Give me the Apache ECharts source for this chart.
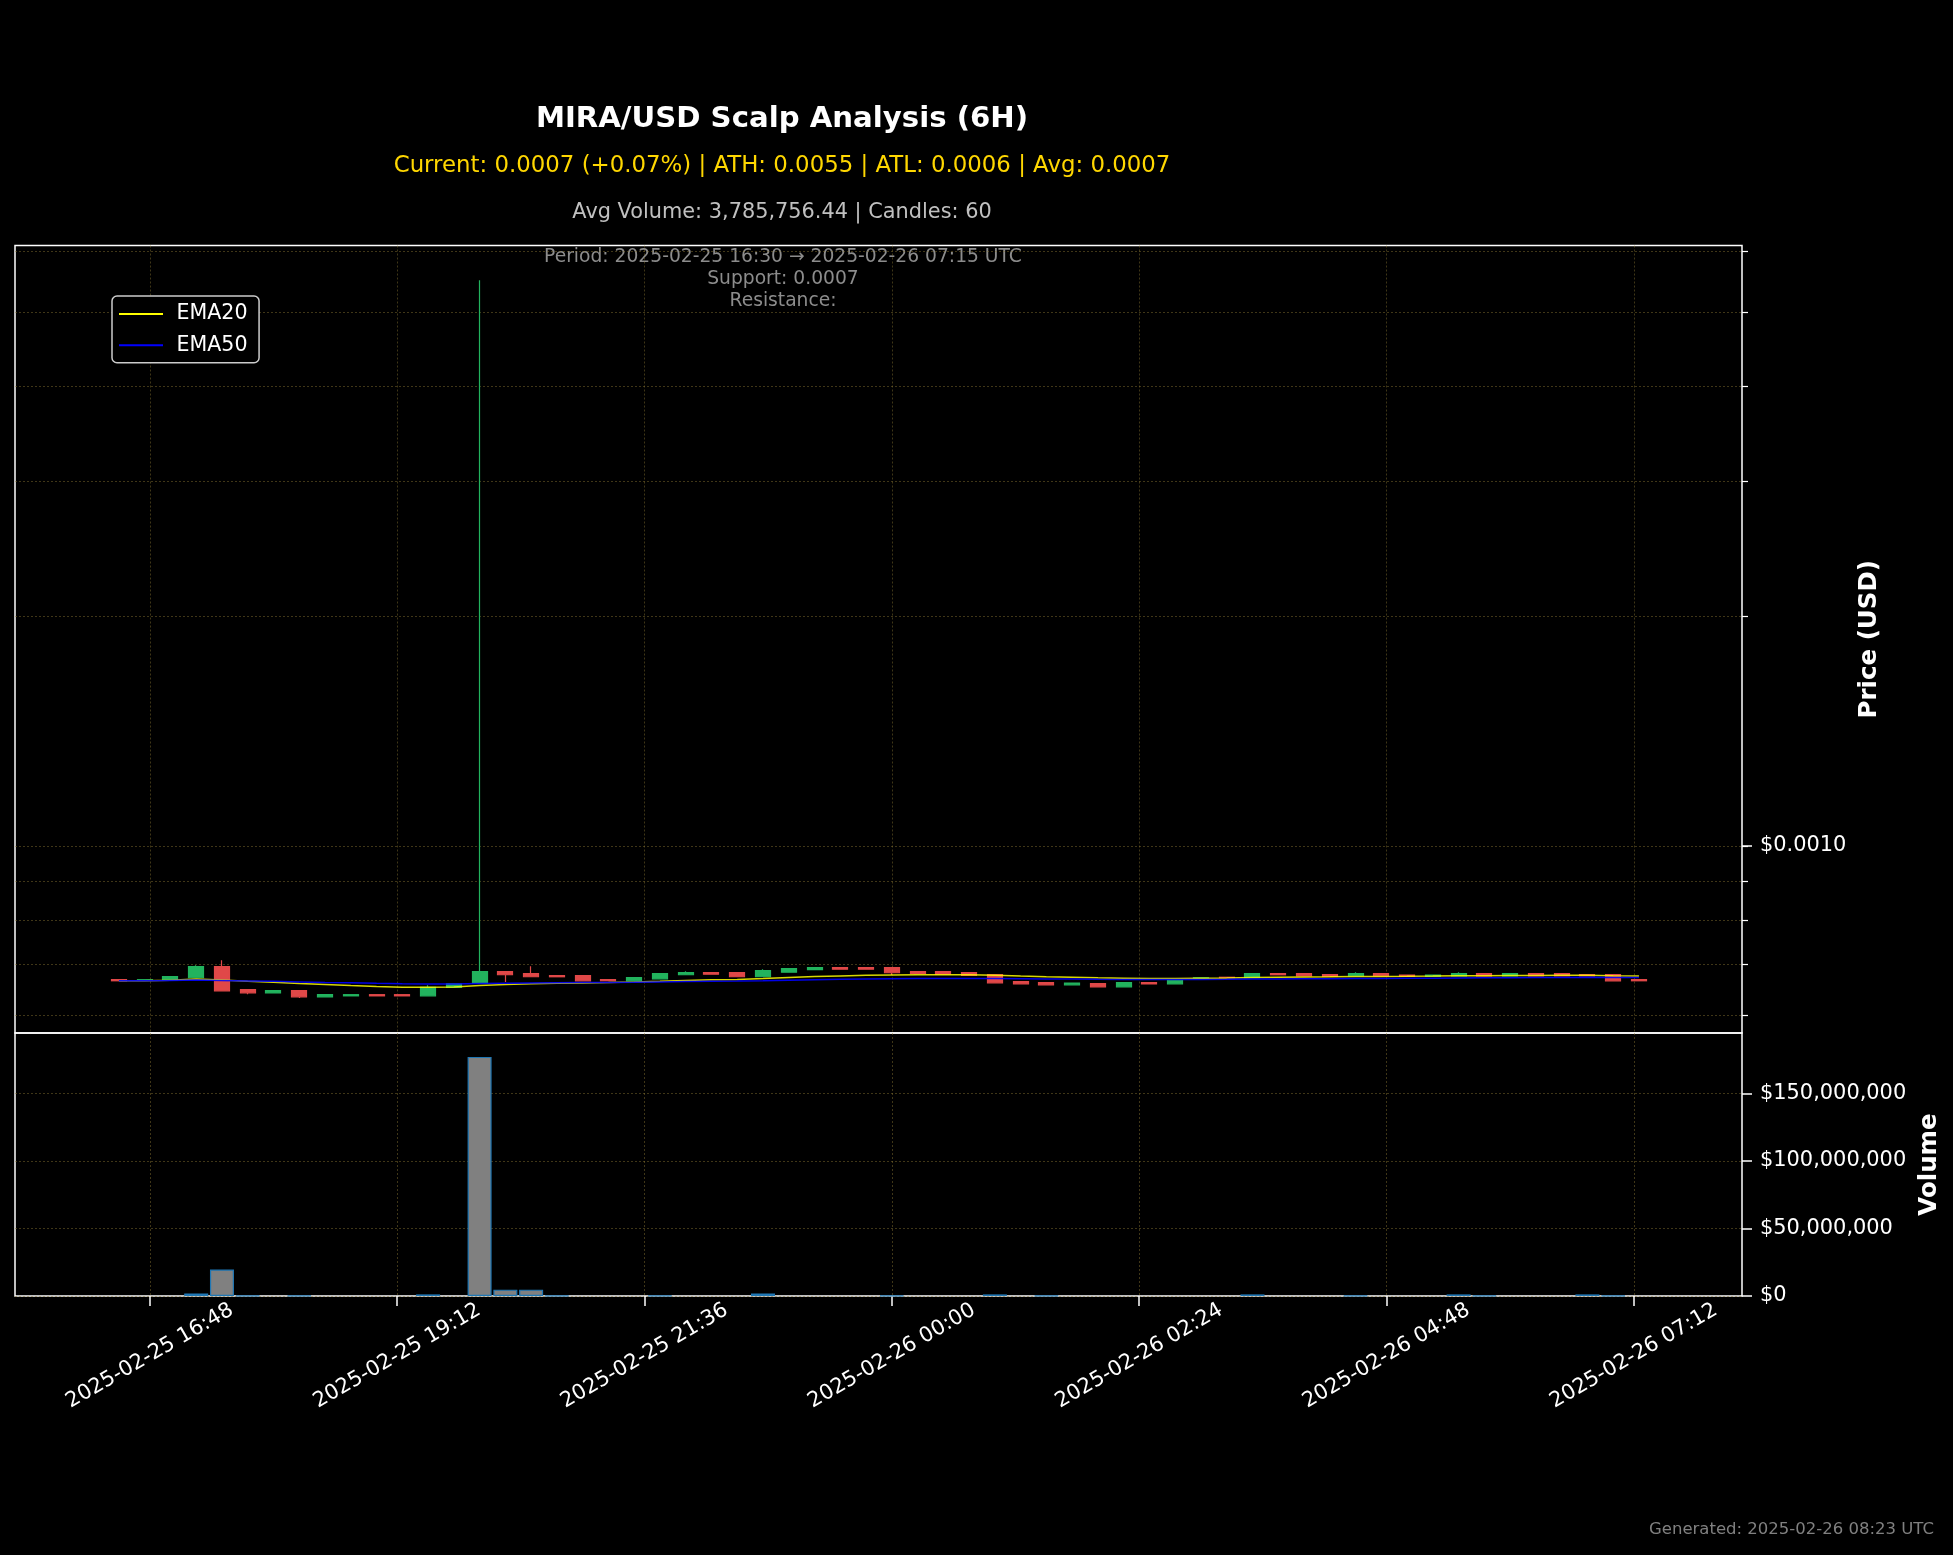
<!DOCTYPE html>
<html>
<head>
<meta charset="utf-8">
<title>MIRA/USD Scalp Analysis (6H)</title>
<script src="https://cdn.jsdelivr.net/npm/echarts@6/dist/echarts.min.js"></script>
<style>
html, body { margin: 0; padding: 0; background: #000; }
#chart { width: 1953px; height: 1555px; }
</style>
</head>
<body>
<div id="chart"></div>
<script>
// 15 minute candles
var times = [
	'2025-02-25 16:30', '2025-02-25 16:45', '2025-02-25 17:00', '2025-02-25 17:15', '2025-02-25 17:30', '2025-02-25 17:45',
	'2025-02-25 18:00', '2025-02-25 18:15', '2025-02-25 18:30', '2025-02-25 18:45', '2025-02-25 19:00', '2025-02-25 19:15',
	'2025-02-25 19:30', '2025-02-25 19:45', '2025-02-25 20:00', '2025-02-25 20:15', '2025-02-25 20:30', '2025-02-25 20:45',
	'2025-02-25 21:00', '2025-02-25 21:15', '2025-02-25 21:30', '2025-02-25 21:45', '2025-02-25 22:00', '2025-02-25 22:15',
	'2025-02-25 22:30', '2025-02-25 22:45', '2025-02-25 23:00', '2025-02-25 23:15', '2025-02-25 23:30', '2025-02-25 23:45',
	'2025-02-26 00:00', '2025-02-26 00:15', '2025-02-26 00:30', '2025-02-26 00:45', '2025-02-26 01:00', '2025-02-26 01:15',
	'2025-02-26 01:30', '2025-02-26 01:45', '2025-02-26 02:00', '2025-02-26 02:15', '2025-02-26 02:30', '2025-02-26 02:45',
	'2025-02-26 03:00', '2025-02-26 03:15', '2025-02-26 03:30', '2025-02-26 03:45', '2025-02-26 04:00', '2025-02-26 04:15',
	'2025-02-26 04:30', '2025-02-26 04:45', '2025-02-26 05:00', '2025-02-26 05:15', '2025-02-26 05:30', '2025-02-26 05:45',
	'2025-02-26 06:00', '2025-02-26 06:15', '2025-02-26 06:30', '2025-02-26 06:45', '2025-02-26 07:00', '2025-02-26 07:15'
];

var open = [
	0.0006685, 0.0006675, 0.0006681, 0.0006722, 0.0006953, 0.0006486, 0.0006423, 0.0006466, 0.0006346, 0.0006365,
	0.0006388, 0.0006388, 0.0006365, 0.0006531, 0.0006607, 0.0006849, 0.0006807, 0.0006766, 0.0006766, 0.0006685,
	0.0006661, 0.0006701, 0.0006783, 0.0006828, 0.0006828, 0.0006742, 0.0006835, 0.0006887, 0.0006932, 0.0006932,
	0.0006932, 0.0006849, 0.0006849, 0.0006828, 0.0006787, 0.0006645, 0.0006625, 0.0006581, 0.0006607, 0.0006541,
	0.0006625, 0.0006601, 0.0006713, 0.0006732, 0.0006722, 0.0006807, 0.0006807, 0.0006787, 0.0006762, 0.0006807,
	0.0006778, 0.0006752, 0.0006762, 0.0006807, 0.0006762, 0.0006807, 0.0006807, 0.0006787, 0.0006787, 0.0006685
];
var close = [
	0.0006661, 0.0006683, 0.0006746, 0.0006953, 0.0006462, 0.0006423, 0.0006466, 0.0006346, 0.0006388, 0.0006388,
	0.0006365, 0.0006365, 0.0006531, 0.0006601, 0.0006849, 0.0006783, 0.0006742, 0.0006742, 0.0006661, 0.0006661,
	0.0006726, 0.0006807, 0.0006828, 0.0006793, 0.0006742, 0.0006870, 0.0006912, 0.0006932, 0.0006897, 0.0006897,
	0.0006824, 0.0006813, 0.0006793, 0.0006772, 0.0006621, 0.0006601, 0.0006581, 0.0006617, 0.0006541, 0.0006625,
	0.0006601, 0.0006673, 0.0006722, 0.0006724, 0.0006807, 0.0006783, 0.0006762, 0.0006752, 0.0006807, 0.0006762,
	0.0006752, 0.0006778, 0.0006807, 0.0006762, 0.0006807, 0.0006762, 0.0006762, 0.0006762, 0.0006661, 0.0006661
];
var low = [
	0.0006661, 0.0006675, 0.0006681, 0.0006722, 0.0006462, 0.0006394, 0.0006423, 0.0006323, 0.0006346, 0.0006365,
	0.0006365, 0.0006365, 0.0006365, 0.0006531, 0.0006607, 0.0006637, 0.0006742, 0.0006742, 0.0006661, 0.0006661,
	0.0006661, 0.0006701, 0.0006783, 0.0006793, 0.0006742, 0.0006742, 0.0006835, 0.0006887, 0.0006897, 0.0006897,
	0.0006778, 0.0006813, 0.0006793, 0.0006772, 0.0006621, 0.0006601, 0.0006581, 0.0006581, 0.0006541, 0.0006541,
	0.0006601, 0.0006601, 0.0006713, 0.0006724, 0.0006722, 0.0006783, 0.0006762, 0.0006752, 0.0006762, 0.0006762,
	0.0006752, 0.0006752, 0.0006762, 0.0006762, 0.0006762, 0.0006762, 0.0006762, 0.0006762, 0.0006661, 0.0006661
];
var high = [
	0.0006685, 0.0006683, 0.0006746, 0.0006980, 0.0007087, 0.0006486, 0.0006466, 0.0006466, 0.0006388, 0.0006388,
	0.0006388, 0.0006388, 0.0006571, 0.0006601, 0.0055030, 0.0006849, 0.0006959, 0.0006766, 0.0006766, 0.0006685,
	0.0006726, 0.0006807, 0.0006855, 0.0006828, 0.0006828, 0.0006897, 0.0006912, 0.0006932, 0.0006932, 0.0006932,
	0.0006932, 0.0006849, 0.0006849, 0.0006828, 0.0006787, 0.0006645, 0.0006625, 0.0006617, 0.0006607, 0.0006625,
	0.0006625, 0.0006673, 0.0006722, 0.0006732, 0.0006807, 0.0006807, 0.0006807, 0.0006787, 0.0006835, 0.0006807,
	0.0006778, 0.0006778, 0.0006835, 0.0006807, 0.0006807, 0.0006807, 0.0006807, 0.0006787, 0.0006787, 0.0006685
];
var volume = [
	0, 0, 0, 1800000, 19600000, 300000, 0, 300000, 0, 0,
	0, 0, 1200000, 0, 177000000, 4700000, 4700000, 300000, 0, 0,
	0, 300000, 0, 0, 0, 1800000, 0, 0, 0, 0,
	300000, 0, 0, 0, 1200000, 0, 300000, 0, 0, 0,
	0, 0, 0, 0, 1200000, 0, 0, 0, 300000, 0,
	0, 0, 1200000, 300000, 0, 0, 0, 1200000, 300000, 0
];
var ema20 = [
	0.0006661, 0.0006663, 0.0006671, 0.0006697, 0.0006675, 0.0006651, 0.0006633, 0.0006605, 0.0006585, 0.0006565,
	0.0006547, 0.0006534, 0.0006534, 0.0006539, 0.0006567, 0.0006587, 0.0006601, 0.0006613, 0.0006619, 0.0006625,
	0.0006635, 0.0006651, 0.0006669, 0.0006681, 0.0006689, 0.0006705, 0.0006726, 0.0006746, 0.0006760, 0.0006773,
	0.0006779, 0.0006783, 0.0006785, 0.0006785, 0.0006773, 0.0006758, 0.0006744, 0.0006734, 0.0006720, 0.0006714,
	0.0006707, 0.0006707, 0.0006711, 0.0006715, 0.0006726, 0.0006732, 0.0006736, 0.0006740, 0.0006746, 0.0006750,
	0.0006752, 0.0006756, 0.0006762, 0.0006764, 0.0006768, 0.0006770, 0.0006773, 0.0006773, 0.0006764, 0.0006756
];
var ema50 = [
	0.0006661, 0.0006661, 0.0006665, 0.0006677, 0.0006667, 0.0006659, 0.0006651, 0.0006639, 0.0006629, 0.0006621,
	0.0006611, 0.0006603, 0.0006599, 0.0006599, 0.0006607, 0.0006613, 0.0006619, 0.0006623, 0.0006625, 0.0006627,
	0.0006631, 0.0006637, 0.0006645, 0.0006651, 0.0006655, 0.0006663, 0.0006673, 0.0006683, 0.0006691, 0.0006697,
	0.0006701, 0.0006705, 0.0006707, 0.0006709, 0.0006707, 0.0006703, 0.0006699, 0.0006697, 0.0006691, 0.0006689,
	0.0006687, 0.0006687, 0.0006689, 0.0006691, 0.0006695, 0.0006699, 0.0006701, 0.0006703, 0.0006707, 0.0006709,
	0.0006711, 0.0006713, 0.0006717, 0.0006720, 0.0006724, 0.0006726, 0.0006728, 0.0006730, 0.0006728, 0.0006726
];

var xTicks = ['2025-02-25 16:48', '2025-02-25 19:12', '2025-02-25 21:36', '2025-02-26 00:00',
	'2025-02-26 02:24', '2025-02-26 04:48', '2025-02-26 07:12'];
var priceTicks = [0.0006, 0.0007, 0.0008, 0.0009, 0.001, 0.002, 0.003, 0.004, 0.005, 0.006];
var priceLabels = [0.001];
var volTicks = [0, 50000000, 100000000, 150000000];

var xMin = '2025-02-25 15:29:30';
var xMax = '2025-02-26 08:15:00';
var priceMin = 0.0005691;
var priceMax = 0.006109;
var volMax = 194700000;

var FONT = 'DejaVu Sans';
var GRID_COLOR = 'rgba(140, 120, 50, 0.45)';
var UP = '#22b35e';
var DOWN = '#e04848';

function pad(n) {
	return n < 10 ? '0' + n : '' + n;
}

// local time stamp of 'YYYY-MM-DD HH:mm[:ss]'
function ts(s) {
	return new Date(s.replace(' ', 'T')).getTime();
}

function fmtTime(v) {
	var d = new Date(v);
	return d.getFullYear() + '-' + pad(d.getMonth() + 1) + '-' + pad(d.getDate()) + ' ' + pad(d.getHours()) + ':' + pad(d.getMinutes());
}

function fmtMoney(v) {
	return '$' + Math.round(v).toString().replace(/\B(?=(\d{3})+(?!\d))/g, ',');
}

function log10(v) {
	return Math.log(v) / Math.LN10;
}

var chart = echarts.init(document.getElementById('chart'));

var candleData = times.map(function(t, i) {
	return [ts(t), open[i], close[i], low[i], high[i]];
});
var volData = times.map(function(t, i) {
	return [ts(t), volume[i] > 0 ? volume[i] : '-'];
});
var ema20Data = times.map(function(t, i) {
	return [ts(t), ema20[i]];
});
var ema50Data = times.map(function(t, i) {
	return [ts(t), ema50[i]];
});
var xTickVals = xTicks.map(ts);

var option = {
	backgroundColor: '#000',
	animation: false,
	textStyle: {
		fontFamily: FONT
	},
	grid: [{
		left: 15,
		width: 1727,
		top: 245.5,
		height: 787.5,
		show: true,
		borderColor: '#fff',
		borderWidth: 1.5,
		backgroundColor: 'transparent'
	}, {
		left: 15,
		width: 1727,
		top: 1033,
		height: 263,
		show: true,
		borderColor: '#fff',
		borderWidth: 1.5,
		backgroundColor: 'transparent'
	}],
	legend: {
		data: ['EMA20', 'EMA50'],
		orient: 'vertical',
		left: 112,
		top: 296,
		padding: [6, 11.5, 5.5, 7],
		icon: 'rect',
		itemWidth: 44,
		itemHeight: 2,
		itemGap: 7.2,
		backgroundColor: '#000',
		borderColor: '#cccccc',
		borderWidth: 1.5,
		borderRadius: 5,
		textStyle: {
			color: '#fff',
			fontSize: 20.6,
			lineHeight: 24,
			fontFamily: FONT,
			padding: [0, 0, 0, 8.5]
		}
	},
	xAxis: [{
		type: 'value',
		gridIndex: 0,
		min: ts(xMin),
		max: ts(xMax),
		axisLine: { show: false },
		axisTick: { show: false, customValues: xTickVals },
		axisLabel: { show: false, customValues: xTickVals },
		splitLine: {
			show: true,
			lineStyle: { color: GRID_COLOR, type: [2, 2], width: 1 }
		}
	}, {
		type: 'value',
		gridIndex: 1,
		min: ts(xMin),
		max: ts(xMax),
		axisLine: { show: false },
		axisTick: {
			show: true,
			customValues: xTickVals,
			length: 10,
			lineStyle: { color: '#fff', width: 1.5 }
		},
		axisLabel: {
			show: true,
			customValues: xTickVals,
			rotate: 30,
			align: 'center',
			verticalAlign: 'middle',
			margin: 60,
			color: '#fff',
			fontSize: 21,
			fontFamily: FONT,
			formatter: fmtTime
		},
		splitLine: {
			show: true,
			lineStyle: { color: GRID_COLOR, type: [2, 2], width: 1 }
		}
	}],
	yAxis: [{
		// log price scale the marks are drawn on
		type: 'log',
		logBase: 10,
		gridIndex: 0,
		min: priceMin,
		max: priceMax,
		show: false
	}, {
		// minor ticks and grid of the log scale
		type: 'value',
		gridIndex: 0,
		position: 'right',
		min: log10(priceMin),
		max: log10(priceMax),
		axisLine: { show: false },
		axisTick: {
			show: true,
			customValues: priceTicks.map(log10),
			length: 6,
			lineStyle: { color: '#fff', width: 1.2 }
		},
		axisLabel: { show: false, customValues: priceTicks.map(log10) },
		splitLine: {
			show: true,
			lineStyle: { color: GRID_COLOR, type: [2, 2], width: 1 }
		}
	}, {
		// major tick and its label
		type: 'value',
		gridIndex: 0,
		position: 'right',
		min: log10(priceMin),
		max: log10(priceMax),
		name: 'Price (USD)',
		nameLocation: 'middle',
		nameGap: 112,
		nameRotate: 90,
		nameTextStyle: { color: '#fff', fontSize: 24.5, fontWeight: 'bold', fontFamily: FONT },
		axisLine: { show: false },
		axisTick: {
			show: true,
			customValues: priceLabels.map(log10),
			length: 10,
			lineStyle: { color: '#fff', width: 1.5 }
		},
		axisLabel: {
			show: true,
			customValues: priceLabels.map(log10),
			margin: 18,
			color: '#fff',
			fontSize: 20.9,
			fontFamily: FONT,
			formatter: function(v) {
				return '$' + Math.pow(10, v).toFixed(4);
			}
		},
		splitLine: { show: false }
	}, {
		type: 'value',
		gridIndex: 1,
		position: 'right',
		min: 0,
		max: volMax,
		name: 'Volume',
		nameLocation: 'middle',
		nameGap: 170,
		nameRotate: 90,
		nameTextStyle: { color: '#fff', fontSize: 24.5, fontWeight: 'bold', fontFamily: FONT },
		axisLine: { show: false },
		axisTick: {
			show: true,
			customValues: volTicks,
			length: 10,
			lineStyle: { color: '#fff', width: 1.5 }
		},
		axisLabel: {
			show: true,
			customValues: volTicks,
			margin: 18,
			color: '#fff',
			fontSize: 20.9,
			fontFamily: FONT,
			formatter: fmtMoney
		},
		splitLine: {
			show: true,
			lineStyle: { color: GRID_COLOR, type: [2, 2], width: 1 }
		}
	}],
	series: [{
		name: 'Price',
		type: 'candlestick',
		xAxisIndex: 0,
		yAxisIndex: 0,
		barWidth: 15.5,
		itemStyle: {
			color: UP,
			color0: DOWN,
			borderColor: UP,
			borderColor0: DOWN,
			borderWidth: 1.2
		},
		data: candleData
	}, {
		name: 'EMA20',
		type: 'line',
		xAxisIndex: 0,
		yAxisIndex: 0,
		symbol: 'none',
		color: '#ffff00',
		lineStyle: { color: '#ffff00', width: 1.5, opacity: 0.85 },
		data: ema20Data
	}, {
		name: 'EMA50',
		type: 'line',
		xAxisIndex: 0,
		yAxisIndex: 0,
		symbol: 'none',
		color: '#0000ff',
		lineStyle: { color: '#0000ff', width: 1.5, opacity: 0.9 },
		data: ema50Data
	}, {
		name: 'Volume',
		type: 'bar',
		xAxisIndex: 1,
		yAxisIndex: 3,
		barWidth: 24,
		itemStyle: {
			color: '#808080',
			borderColor: '#1f77b4',
			borderWidth: 1.2
		},
		data: volData
	}],
	graphic: [{
		type: 'text',
		x: 782,
		y: 119.5,
		style: { text: 'MIRA/USD Scalp Analysis (6H)', fill: '#fff', fontSize: 29.2, fontWeight: 'bold', fontFamily: FONT, align: 'center', verticalAlign: 'middle' }
	}, {
		type: 'text',
		x: 782,
		y: 166.5,
		style: { text: 'Current: 0.0007 (+0.07%) | ATH: 0.0055 | ATL: 0.0006 | Avg: 0.0007', fill: '#ffd700', fontSize: 22.85, fontFamily: FONT, align: 'center', verticalAlign: 'middle' }
	}, {
		type: 'text',
		x: 782,
		y: 212.5,
		style: { text: 'Avg Volume: 3,785,756.44 | Candles: 60', fill: '#c0c0c0', fontSize: 20.85, fontFamily: FONT, align: 'center', verticalAlign: 'middle' }
	}, {
		type: 'text',
		x: 783,
		y: 257,
		style: { text: 'Period: 2025-02-25 16:30 \u2192 2025-02-26 07:15 UTC', fill: '#8c8c8c', fontSize: 18.7, fontFamily: FONT, align: 'center', verticalAlign: 'middle' }
	}, {
		type: 'text',
		x: 783,
		y: 279.5,
		style: { text: 'Support: 0.0007', fill: '#8c8c8c', fontSize: 18.7, fontFamily: FONT, align: 'center', verticalAlign: 'middle' }
	}, {
		type: 'text',
		x: 783,
		y: 301.5,
		style: { text: 'Resistance:', fill: '#8c8c8c', fontSize: 18.7, fontFamily: FONT, align: 'center', verticalAlign: 'middle' }
	}, {
		type: 'text',
		x: 1934,
		y: 1530,
		style: { text: 'Generated: 2025-02-26 08:23 UTC', fill: '#808080', fontSize: 16.5, fontFamily: FONT, align: 'right', verticalAlign: 'middle' }
	}]
};

chart.setOption(option);
</script>
</body>
</html>
